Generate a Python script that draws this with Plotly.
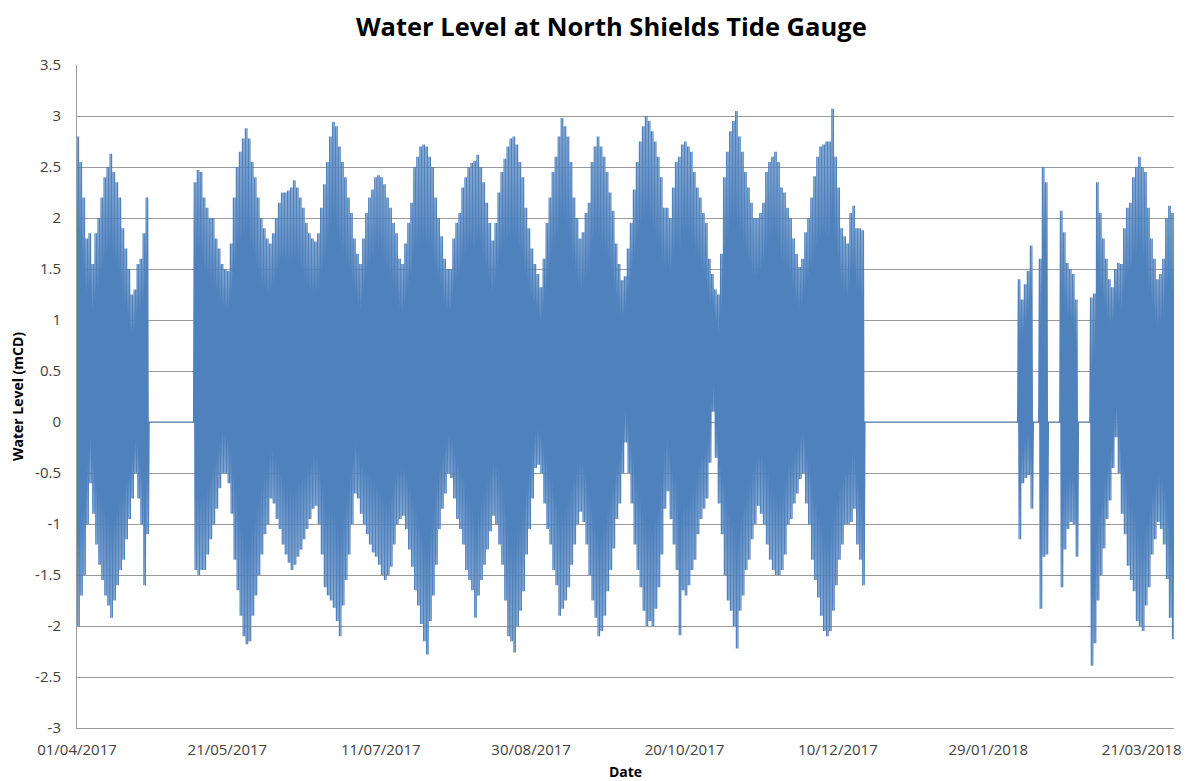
import pandas as pd
import plotly.graph_objects as go

# Daily high / low water level (mCD), one value per day
# starting 01/04/2017. Gaps in the record are plotted as 0 like the original.
START_DATE = "2017-04-01"

daily_high = [
    # 01/04 - 24/04
    2.8, 2.55, 2.2, 1.8, 1.85, 1.55, 1.85, 2.0, 2.2, 2.4, 2.5, 2.63, 2.45, 2.35,
    2.2, 1.9, 1.7, 1.5, 1.25, 1.3, 1.55, 1.6, 1.85, 2.2,
    # gap
    0, 0, 0, 0, 0, 0, 0, 0, 0, 0, 0, 0, 0, 0, 0,
    # 10/05 onwards
    2.35, 2.47, 2.45, 2.2, 2.1, 2.0, 2.0, 1.8, 1.7, 1.55, 1.5, 1.48, 1.75, 2.2,
    2.5, 2.65, 2.78, 2.88, 2.78, 2.55, 2.4, 2.2, 2.0, 1.9, 1.8, 1.75,
    1.85, 2.0, 2.15, 2.25, 2.25, 2.27, 2.3, 2.37, 2.3, 2.2,
    2.1, 1.95, 1.85, 1.8, 1.77, 1.85, 2.1, 2.33, 2.55, 2.8,
    2.94, 2.9, 2.7, 2.55, 2.4, 2.2, 2.05, 1.8, 1.65, 1.55,
    1.8, 2.05, 2.2, 2.28, 2.4, 2.42, 2.4, 2.33, 2.2, 2.1,
    1.95, 1.85, 1.6, 1.55, 1.75, 1.95, 2.15, 2.5, 2.6, 2.7,
    2.72, 2.7, 2.6, 2.5, 2.2, 2.0, 1.82, 1.6, 1.5, 1.5,
    1.8, 1.95,
    2.05, 2.3, 2.4, 2.5, 2.54, 2.56, 2.62, 2.5, 2.35, 2.15,
    1.95, 1.78, 1.95, 2.25, 2.45, 2.58, 2.7, 2.78, 2.8, 2.72,
    2.55, 2.4, 2.1, 1.9, 1.7, 1.55, 1.45, 1.32, 1.6, 1.95,
    2.2, 2.45, 2.6, 2.8, 2.98, 2.9, 2.8, 2.55, 2.2, 2.0,
    1.8, 1.86, 2.05, 2.15, 2.55, 2.7, 2.8, 2.7, 2.6, 2.45,
    2.25, 2.07, 1.75, 1.55, 1.39, 1.43, 1.7, 1.95, 2.28, 2.55,
    2.75, 2.9, 3.0,
    2.95, 2.85, 2.75, 2.6, 2.4, 2.1, 2.1, 2.0, 2.3, 2.55,
    2.6, 2.72, 2.75, 2.7, 2.65, 2.45, 2.3, 2.2, 2.05, 1.95,
    1.6, 1.45, 1.3, 1.25, 1.65, 2.4, 2.65, 2.85, 2.95, 3.05,
    2.8, 2.65, 2.45, 2.3, 2.15, 2.0, 2.0, 2.05, 2.15, 2.45,
    2.55, 2.6, 2.65, 2.55, 2.3, 2.25, 2.1, 2.0, 1.8, 1.65,
    1.52, 1.6, 1.86, 2.0, 2.2, 2.41, 2.6, 2.7, 2.72, 2.75,
    2.75, 3.07, 2.6,
    2.3, 1.9, 1.82, 1.75, 2.05, 2.12, 1.9, 1.9, 1.88,
    # gap 18/12 - 06/02
    0, 0, 0, 0, 0, 0, 0, 0, 0, 0, 0, 0, 0, 0, 0, 0, 0,
    0, 0, 0, 0, 0, 0, 0, 0, 0, 0, 0, 0, 0, 0, 0, 0, 0,
    0, 0, 0, 0, 0, 0, 0, 0, 0, 0, 0, 0, 0, 0, 0, 0, 0,
    # broken record Feb - Mar 2018
    1.4, 1.2, 1.35, 1.48, 1.73,
    0, 0,
    1.6, 2.5, 2.35,
    0, 0, 0, 0,
    2.07, 1.86, 1.56, 1.5, 1.45, 1.2,
    0, 0, 0, 0,
    1.22, 1.26, 2.35, 2.05, 1.8, 1.6, 1.4, 1.32, 1.5, 1.56, 1.55, 1.9, 2.1, 2.15,
    2.4, 2.5, 2.6, 2.5, 2.45, 2.1, 1.8, 1.6, 1.4, 1.45, 1.6, 2.0, 2.12, 2.05,
]

daily_low = [
    -2.0, -1.7, -1.5, -1.0, -0.6, -0.9, -1.2, -1.4, -1.55, -1.7, -1.8, -1.92, -1.75,
    -1.6, -1.45, -1.35, -1.15, -0.95, -0.75, -0.5, -0.75, -1.0, -1.6, -1.1,
    0, 0, 0, 0, 0, 0, 0, 0, 0, 0, 0, 0, 0, 0, 0,
    -1.45, -1.5, -1.45, -1.45, -1.3, -1.15, -1.0, -0.85, -0.65, -0.5, -0.5, -0.6,
    -0.9, -1.35, -1.65, -1.9, -2.1, -2.18, -2.15, -1.9, -1.7, -1.5, -1.3, -1.1,
    -1.0, -0.75,
    -0.8, -0.95, -1.05, -1.2, -1.3, -1.38, -1.45, -1.4, -1.32, -1.25,
    -1.15, -1.05, -0.95, -0.85, -0.82, -1.0, -1.3, -1.62, -1.7, -1.75,
    -1.82, -1.95, -2.1, -1.8, -1.55, -1.3, -1.0, -0.7, -0.75, -0.9,
    -1.0, -1.1, -1.2, -1.28, -1.32, -1.4, -1.5, -1.55, -1.5, -1.42,
    -1.2, -1.0, -0.95, -0.92, -1.05, -1.25, -1.42, -1.65, -1.8, -1.98,
    -2.15, -2.28, -1.95, -1.7, -1.4, -1.05, -0.85, -0.7, -0.5, -0.55,
    -0.75, -0.95,
    -1.05, -1.2, -1.45, -1.55, -1.65, -1.92, -1.7, -1.55, -1.4, -1.25,
    -1.07, -0.92, -1.0, -1.2, -1.4, -1.75, -2.1, -2.15, -2.26, -2.0,
    -1.85, -1.66, -1.3, -1.05, -0.75, -0.45, -0.42, -0.5, -0.8, -1.05,
    -1.2, -1.45, -1.6, -1.9, -1.83, -1.75, -1.62, -1.4, -1.2, -1.0,
    -0.88, -0.98, -1.2, -1.5, -1.75, -1.92, -2.1, -2.05, -1.9, -1.66,
    -1.45, -1.24, -0.95, -0.8, -0.5, -0.2, -0.5, -0.8, -1.2, -1.45,
    -1.62, -1.85, -2.0,
    -1.95, -2.0, -1.83, -1.62, -1.3, -0.85, -0.68, -0.95, -1.2, -1.45,
    -2.09, -1.65, -1.7, -1.6, -1.45, -1.35, -1.1, -0.95, -0.85, -0.75,
    -0.4, 0.1, -0.35, -0.8, -1.1, -1.5, -1.75, -1.85, -2.0, -2.22,
    -1.85, -1.7, -1.45, -1.35, -1.15, -1.0, -0.82, -0.9, -1.0, -1.2,
    -1.35, -1.45, -1.5, -1.5, -1.45, -1.3, -1.0, -0.95, -0.8, -0.7,
    -0.56, -0.5, -0.8, -1.0, -1.35, -1.55, -1.72, -1.9, -2.05, -2.1,
    -2.05, -1.85, -1.6,
    -1.35, -1.2, -1.0, -1.0, -0.98, -0.85, -1.2, -1.35, -1.6,
    0, 0, 0, 0, 0, 0, 0, 0, 0, 0, 0, 0, 0, 0, 0, 0, 0,
    0, 0, 0, 0, 0, 0, 0, 0, 0, 0, 0, 0, 0, 0, 0, 0, 0,
    0, 0, 0, 0, 0, 0, 0, 0, 0, 0, 0, 0, 0, 0, 0, 0, 0,
    -1.15, -0.6, -0.55, -0.52, -0.85,
    0, 0,
    -1.83, -1.32, -1.3,
    0, 0, 0, 0,
    -1.62, -1.25, -1.05, -0.98, -1.0, -1.32,
    0, 0, 0, 0,
    -2.39, -2.17, -1.75, -1.5, -1.24, -0.95, -0.77, -0.45, -0.15, -0.5, -0.9,
    -1.1, -1.41, -1.55, -1.66, -1.95, -2.0, -2.05, -1.8, -1.62, -1.3, -1.15,
    -0.98, -1.05, -1.2, -1.54, -1.92, -2.13,
]

x_tick_dates = ["2017-04-01", "2017-05-21", "2017-07-11", "2017-08-30",
                "2017-10-20", "2017-12-10", "2018-01-29", "2018-03-21"]
x_tick_labels = ["01/04/2017", "21/05/2017", "11/07/2017", "30/08/2017",
                 "20/10/2017", "10/12/2017", "29/01/2018", "21/03/2018"]
y_ticks = [-3, -2.5, -2, -1.5, -1, -0.5, 0, 0.5, 1, 1.5, 2, 2.5, 3, 3.5]
y_tick_labels = ["-3", "-2.5", "-2", "-1.5", "-1", "-0.5", "0", "0.5", "1",
                 "1.5", "2", "2.5", "3", "3.5"]


def main():
    days = pd.date_range(START_DATE, periods=len(daily_high), freq="D")

    # semi-diurnal: two high waters and two low waters each day
    x, y = [], []
    for d, hi, lo in zip(days, daily_high, daily_low):
        for h in (0, 6, 12, 18):
            x.append(d + pd.Timedelta(hours=h))
        y += [hi, lo, hi, lo]

    fig = go.Figure()
    fig.add_trace(
        go.Scatter(
            x=x,
            y=y,
            mode="lines",
            line=dict(color="#4F81BD", width=1.2),
            name="Water Level"))

    grid = "#9a9a9a"
    fig.update_layout(
        width=1187,
        height=781,
        paper_bgcolor="white",
        plot_bgcolor="white",
        showlegend=False,
        margin=dict(l=77, r=13, t=65, b=53),
        font=dict(family="Open Sans", color="#404040", size=15),
        title=dict(
            text="<b>Water Level at North Shields Tide Gauge</b>",
            font=dict(family="Open Sans", size=25.5, color="black"),
            x=0.515, xanchor="center",
            y=1 - 27 / 781, yref="container", yanchor="middle"),
    )
    fig.update_xaxes(
        range=[days[0], x[-1]],
        tickvals=x_tick_dates,
        ticktext=x_tick_labels,
        showgrid=False,
        showline=True,
        linecolor=grid,
        linewidth=1,
        ticks="",
        automargin=False,
        ticklabelstandoff=8,
        tickfont=dict(size=15, color="#404040"),
        title=dict(text="<b>Date</b>", standoff=12,
                   font=dict(size=14, color="black")),
    )
    fig.update_yaxes(
        range=[-3, 3.5],
        tickvals=y_ticks,
        ticktext=y_tick_labels,
        showgrid=True,
        gridcolor=grid,
        gridwidth=1,
        zeroline=False,
        showline=True,
        linecolor=grid,
        linewidth=1,
        ticks="",
        automargin=False,
        ticklabelstandoff=12,
        tickfont=dict(size=15, color="#404040"),
        title=dict(text="<b>Water Level (mCD)</b>", standoff=8,
                   font=dict(size=14, color="black")),
    )

    # drop the default page margin so the figure sits at the window corner
    fig.write_html("out.html", config={"displayModeBar": False},
                   post_script="document.body.style.margin='0';")


if __name__ == '__main__':
    main()
